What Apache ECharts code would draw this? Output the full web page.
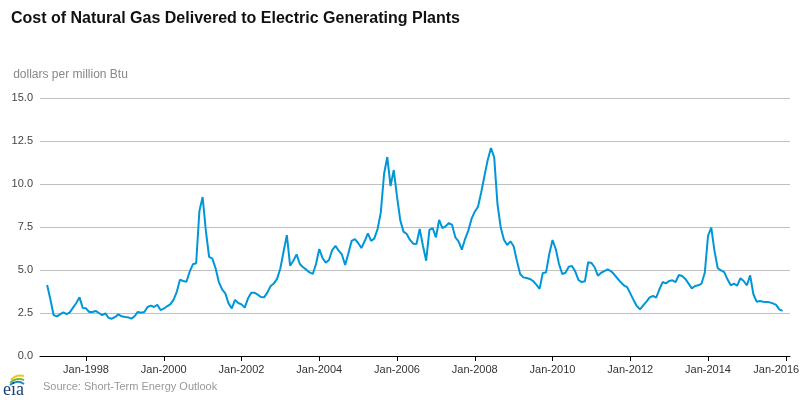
<!DOCTYPE html>
<html>
<head>
<meta charset="utf-8">
<script src="https://cdn.jsdelivr.net/npm/echarts@6/dist/echarts.min.js"></script>
<style>
html,body{margin:0;padding:0;background:#fff;}
#chart{width:800px;height:400px;}
</style>
</head>
<body>
<div id="chart"></div>
<script>
// Monthly values, Jan-1997 .. Dec-2015 (dollars per million Btu)
var startYear = 1997;
var prices = [
  4.13,3.30,2.38,2.30,2.42,2.54,2.44,2.54,2.81,3.08,3.41,2.79,
  2.77,2.56,2.56,2.62,2.50,2.38,2.48,2.21,2.17,2.27,2.42,2.31,
  2.27,2.25,2.17,2.31,2.56,2.52,2.56,2.85,2.93,2.85,2.98,2.67,
  2.75,2.89,3.00,3.26,3.72,4.44,4.36,4.32,4.90,5.33,5.39,8.43,
  9.24,7.27,5.76,5.66,5.10,4.30,3.88,3.64,3.06,2.77,3.26,3.08,
  3.00,2.81,3.35,3.68,3.68,3.57,3.43,3.41,3.70,4.07,4.22,4.50,
  5.10,6.09,7.03,5.25,5.54,5.91,5.35,5.16,5.02,4.86,4.77,5.35,
  6.22,5.70,5.43,5.58,6.16,6.40,6.12,5.89,5.29,5.97,6.70,6.80,
  6.57,6.28,6.67,7.13,6.69,6.84,7.38,8.35,10.58,11.57,9.88,10.81,
  9.26,7.90,7.23,7.09,6.75,6.53,6.51,7.38,6.41,5.54,7.33,7.44,
  6.90,7.91,7.44,7.54,7.73,7.62,6.90,6.67,6.18,6.80,7.29,7.97,
  8.39,8.68,9.52,10.48,11.40,12.09,11.55,8.84,7.48,6.76,6.45,6.67,
  6.38,5.54,4.77,4.57,4.53,4.48,4.36,4.15,3.90,4.83,4.86,5.93,
  6.74,6.22,5.35,4.77,4.84,5.19,5.23,4.92,4.42,4.30,4.34,5.45,
  5.41,5.16,4.67,4.84,4.94,5.04,4.94,4.75,4.52,4.30,4.11,4.01,
  3.64,3.26,2.91,2.71,2.95,3.16,3.41,3.49,3.39,3.88,4.30,4.22,
  4.36,4.40,4.30,4.71,4.65,4.48,4.21,3.93,4.07,4.11,4.21,4.84,
  6.98,7.46,6.10,5.10,4.98,4.88,4.46,4.11,4.21,4.09,4.52,4.36,
  4.11,4.69,3.59,3.16,3.20,3.16,3.14,3.12,3.06,2.97,2.71,2.62
];
var tickYears = [1998,2000,2002,2004,2006,2008,2010,2012,2014,2016];

var seriesData = prices.map(function(v,i){ return [i, v]; });
var tickIdx = tickYears.map(function(y){ return (y - startYear) * 12; });
var lastTick = tickIdx[tickIdx.length - 1];

var chart = echarts.init(document.getElementById('chart'));
chart.setOption({
  animation:false,
  backgroundColor:'#ffffff',
  title:{
    text:'Cost of Natural Gas Delivered to Electric Generating Plants',
    left:11, top:11, padding:0,
    textStyle:{fontFamily:'Liberation Sans, Arial, sans-serif',fontWeight:'bold',fontSize:16,color:'#111'}
  },
  grid:{left:40,right:10,top:98,bottom:44,containLabel:false,outerBoundsMode:'none'},
  xAxis:{
    type:'value',
    min:-2.2, max:229.3,
    splitLine:{show:false},
    axisLine:{show:true,onZero:false,lineStyle:{color:'#000',width:1}},
    axisTick:{show:true,length:5,lineStyle:{color:'#000'},customValues:tickIdx},
    axisLabel:{
      customValues:tickIdx,
      margin:8,
      fontFamily:'Liberation Sans, Arial, sans-serif',fontSize:11,color:'#333',
      formatter:function(v){
        var s = 'Jan-' + (startYear + Math.round(v/12));
        return v === lastTick ? '{last|' + s + '}' : s;
      },
      rich:{ last:{padding:[0,19,0,0],fontFamily:'Liberation Sans, Arial, sans-serif',fontSize:11,color:'#333'} }
    }
  },
  yAxis:{
    type:'value',
    min:0,max:15,interval:2.5,
    name:'dollars per million Btu',
    nameLocation:'end',
    nameGap:0,
    nameTextStyle:{align:'left',verticalAlign:'bottom',padding:[0,0,17,-34],fontFamily:'Liberation Sans, Arial, sans-serif',fontSize:12,color:'#888'},
    axisLine:{show:false},
    axisTick:{show:false},
    splitLine:{show:true,lineStyle:{color:'#c0c0c0',width:1}},
    axisLabel:{
      margin:7,
      fontFamily:'Liberation Sans, Arial, sans-serif',fontSize:11,color:'#444',
      formatter:function(v){ return v.toFixed(1); }
    }
  },
  series:[{
    type:'line',
    data:seriesData,
    showSymbol:false,
    symbol:'none',
    lineStyle:{color:'#0096d7',width:2},
    z:5
  }],
  graphic:[
    {type:'bezierCurve',shape:{x1:11,y1:380,cpx1:16,cpy1:374,x2:24,y2:376},style:{stroke:'#f3c316',lineWidth:2,fill:null}},
    {type:'bezierCurve',shape:{x1:10,y1:383,cpx1:16,cpy1:377,x2:24,y2:380},style:{stroke:'#7ab845',lineWidth:2,fill:null}},
    {type:'bezierCurve',shape:{x1:10,y1:385,cpx1:17,cpy1:379,x2:24,y2:384},style:{stroke:'#1e8bc3',lineWidth:2,fill:null}},
    {type:'text',left:3,top:381,style:{text:'eia',font:'18px "Liberation Serif", "DejaVu Serif", serif',fill:'#1d3f72'}},
    {type:'text',left:43,top:381,style:{text:'Source: Short-Term Energy Outlook',font:'11px "Liberation Sans", Arial, sans-serif',fill:'#999'}}
  ]
});
</script>
</body>
</html>
